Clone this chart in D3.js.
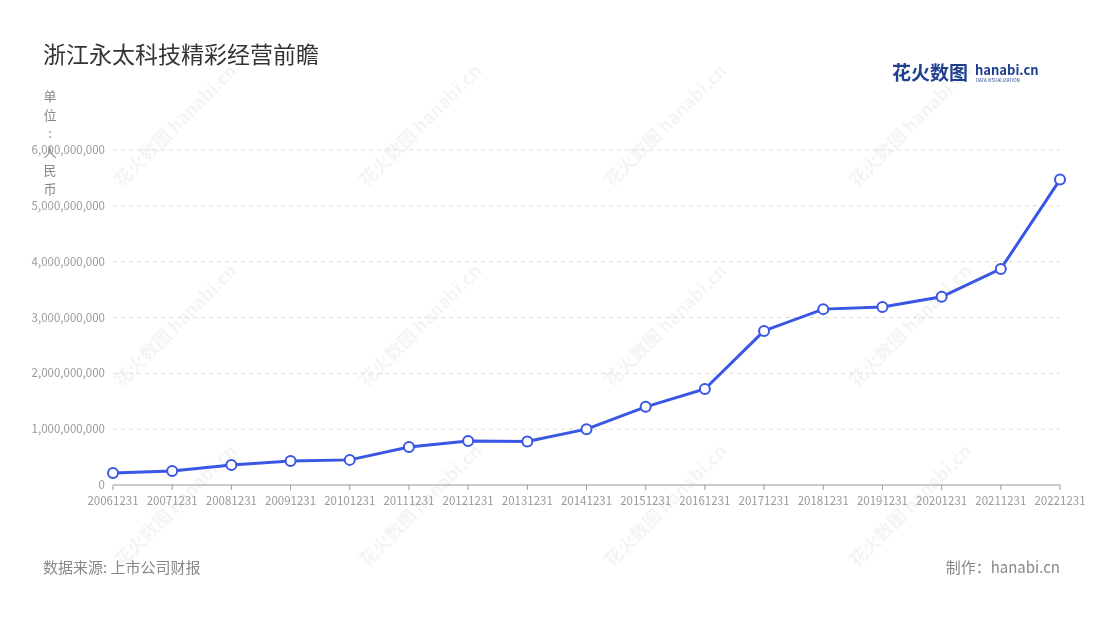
<!DOCTYPE html><html><head><meta charset="utf-8"><script src="https://cdn.jsdelivr.net/npm/d3@7"></script>
<style>body{margin:0;background:#fff;font-family:"Noto Sans CJK SC","Noto Sans",sans-serif}</style></head><body><svg id="c" width="1100" height="620"></svg><script>
const categories=["20061231","20071231","20081231","20091231","20101231","20111231","20121231","20131231","20141231","20151231","20161231","20171231","20181231","20191231","20201231","20211231","20221231"];
const values=[0.215e9,0.25e9,0.36e9,0.43e9,0.45e9,0.68e9,0.79e9,0.78e9,1.0e9,1.40e9,1.72e9,2.76e9,3.15e9,3.19e9,3.37e9,3.87e9,5.47e9];
const yTicks=[0,1e9,2e9,3e9,4e9,5e9,6e9];
const svg=d3.select("#c");
const x=d3.scalePoint().domain(categories).range([113,1060]);
const y=d3.scaleLinear().domain([0,6e9]).range([485,150]);
const wm=svg.append("g").attr("fill","#000").attr("opacity",0.045).attr("font-size",18).attr("font-weight","bold");
[[180,130],[425,130],[670,130],[915,130],[180,330],[425,330],[670,330],[915,330],[180,510],[425,510],[670,510],[915,510]].forEach(p=>{
wm.append("text").attr("transform",`translate(${p[0]},${p[1]}) rotate(-45)`).attr("text-anchor","middle").text("花火数图 hanabi.cn");});
svg.append("text").attr("x",43).attr("y",63).attr("font-size",23).attr("fill","#333").text("浙江永太科技精彩经营前瞻");
svg.append("text").attr("x",892).attr("y",80).attr("font-size",19).attr("font-weight","bold").attr("fill","#1f3f8f").text("花火数图");
svg.append("text").attr("x",975).attr("y",75).attr("font-size",13).attr("font-weight","bold").attr("fill","#1f3f8f").text("hanabi.cn");
svg.append("text").attr("x",976).attr("y",82).attr("font-size",4.5).attr("fill","#1f3f8f").text("DATA VISUALIZATION");
"单位：人民币".split("").forEach((ch,i)=>svg.append("text").attr("x",50).attr("y",101+i*18.5).attr("text-anchor","middle").attr("font-size",13).attr("fill","#888").text(ch==="："?":":ch));
const g=svg.append("g");
yTicks.forEach(t=>{ if(t>0) g.append("line").attr("x1",113).attr("x2",1060).attr("y1",y(t)).attr("y2",y(t)).attr("stroke","#ddd").attr("stroke-dasharray","4,4");
 g.append("text").attr("x",105).attr("y",y(t)+4).attr("text-anchor","end").attr("font-size",11.5).attr("fill","#999").text(d3.format(",")(t));});
g.append("line").attr("x1",113).attr("x2",1060).attr("y1",485).attr("y2",485).attr("stroke","#999");
categories.forEach(c=>{g.append("line").attr("x1",x(c)).attr("x2",x(c)).attr("y1",485).attr("y2",490).attr("stroke","#999");
 g.append("text").attr("x",x(c)).attr("y",505).attr("text-anchor","middle").attr("font-size",11.5).attr("fill","#999").text(c);});
const line=d3.line().x((d,i)=>x(categories[i])).y(d=>y(d));
g.append("path").datum(values).attr("d",line).attr("fill","none").attr("stroke","#3a56e4").attr("stroke-width",3);
g.selectAll("circle").data(values).join("circle").attr("cx",(d,i)=>x(categories[i])).attr("cy",d=>y(d)).attr("r",5).attr("fill","#fff").attr("stroke","#3a56e4").attr("stroke-width",2);
svg.append("text").attr("x",43).attr("y",573).attr("font-size",15).attr("fill","#888").text("数据来源: 上市公司财报");
svg.append("text").attr("x",1060).attr("y",573).attr("text-anchor","end").attr("font-size",15).attr("fill","#888").text("制作：hanabi.cn");
</script></body></html>
